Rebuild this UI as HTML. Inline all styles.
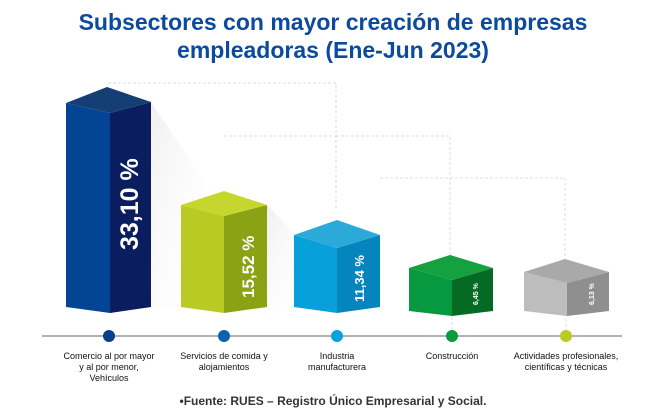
<!DOCTYPE html>
<html><head><meta charset="utf-8"><style>
body{margin:0;width:666px;height:418px;background:#fff;overflow:hidden;font-family:"Liberation Sans",sans-serif}
.t{position:absolute;left:0;width:666px;text-align:center;color:#0b4a9c;font-weight:bold;font-size:23px;line-height:28px}
.l{position:absolute;font-size:9px;color:#111;text-align:center;line-height:11px}
</style></head><body>
<div class="t" style="top:8px">Subsectores con mayor creación de empresas<br>empleadoras (Ene-Jun 2023)</div>
<svg width="666" height="418" style="position:absolute;left:0;top:0">
<defs><linearGradient id="sh" x1="0" y1="0" x2="1" y2="1"><stop offset="0" stop-color="#f0f0f0"/><stop offset="1" stop-color="#fff" stop-opacity="0"/></linearGradient></defs>
<g stroke="#ddd" stroke-dasharray="3,2" fill="none" stroke-width="1">
<path d="M108 83 H336 V208"/><path d="M224 136 H336"/><path d="M336 136 H450 V255"/><path d="M380 178 H565 V258"/>
<path d="M452 282 V330"/><path d="M566 284 V330"/>
</g>
<polygon points="151,102 210,190 210,313 151,307" fill="url(#sh)"/>
<polygon points="267,205 310,250 310,313 267,313" fill="url(#sh)"/>
<!-- bar1 -->
<polygon points="66,103 110,113 110,313 66,307" fill="#034594"/>
<polygon points="110,113 151,102 151,307 110,313" fill="#0a1d5e"/>
<polygon points="66,103 107,87 151,102 110,113" fill="#153f74"/>
<text transform="translate(138,250) rotate(-90)" fill="#fff" font-size="25" font-weight="bold">33,10 %</text>
<!-- bar2 -->
<polygon points="181,205 224,216 224,313 181,307" fill="#b9cb22"/>
<polygon points="224,216 267,205 267,307 224,313" fill="#8aa214"/>
<polygon points="181,205 224,191 267,205 224,216" fill="#c5d62e"/>
<text transform="translate(254,298) rotate(-90)" fill="#fff" font-size="17" font-weight="bold">15,52 %</text>
<!-- bar3 -->
<polygon points="294,235 337,248 337,313 294,307" fill="#07a0db"/>
<polygon points="337,248 380,235 380,307 337,313" fill="#0585be"/>
<polygon points="294,235 337,220 380,235 337,248" fill="#2ba9d9"/>
<text transform="translate(364,302) rotate(-90)" fill="#fff" font-size="13" font-weight="bold">11,34 %</text>
<!-- bar4 -->
<polygon points="409,268 452,280 452,316 409,311" fill="#06993f"/>
<polygon points="452,280 493,268 493,311 452,316" fill="#046a24"/>
<polygon points="409,268 450,255 493,268 452,280" fill="#15a13f"/>
<text transform="translate(478,305) rotate(-90)" fill="#fff" font-size="7" font-weight="bold">6,45 %</text>
<!-- bar5 -->
<polygon points="524,272 567,283 567,316 524,311" fill="#bdbdbd"/>
<polygon points="567,283 609,272 609,311 567,316" fill="#8f8f8f"/>
<polygon points="524,272 565,259 609,272 567,283" fill="#a9a9a9"/>
<text transform="translate(594,305) rotate(-90)" fill="#fff" font-size="7" font-weight="bold">6,13 %</text>
<line x1="42" y1="336" x2="622" y2="336" stroke="#999" stroke-width="1.5"/>
<circle cx="109" cy="336" r="6" fill="#0b3e8c"/>
<circle cx="224" cy="336" r="6" fill="#0b62b0"/>
<circle cx="337" cy="336" r="6" fill="#0aa2dc"/>
<circle cx="452" cy="336" r="6" fill="#0b9a40"/>
<circle cx="566" cy="336" r="6" fill="#b8cc22"/>
</svg>
<div class="l" style="left:49px;top:351px;width:120px">Comercio al por mayor<br>y al por menor,<br>Vehículos</div>
<div class="l" style="left:164px;top:351px;width:120px">Servicios de comida y<br>alojamientos</div>
<div class="l" style="left:287px;top:351px;width:100px">Industria<br>manufacturera</div>
<div class="l" style="left:402px;top:351px;width:100px">Construcción</div>
<div class="l" style="left:496px;top:351px;width:140px">Actividades profesionales,<br>científicas y técnicas</div>
<div style="position:absolute;left:0;width:666px;top:394px;text-align:center;font-size:12px;font-weight:bold;color:#333">•Fuente: RUES – Registro Único Empresarial y Social.</div>
</body></html>
